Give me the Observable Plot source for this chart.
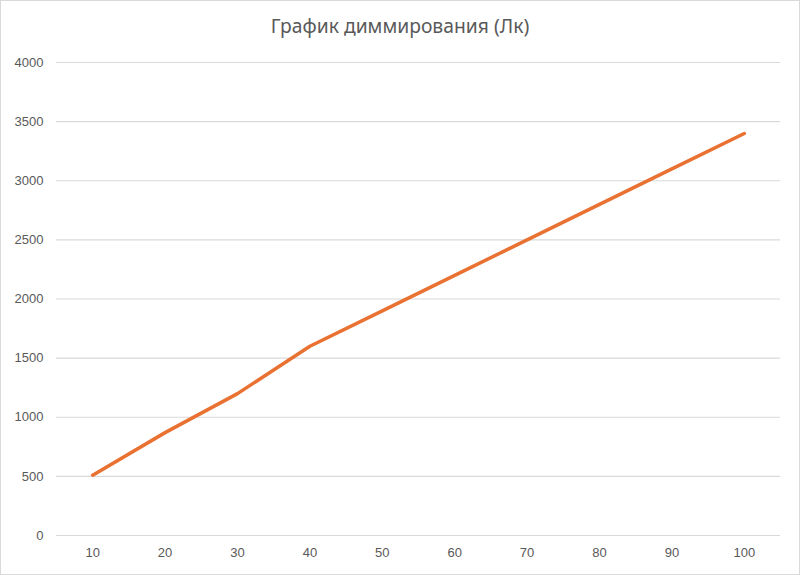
<!DOCTYPE html>
<html>
<head>
<meta charset="utf-8">
<script src="https://cdn.jsdelivr.net/npm/d3@7"></script>
<script src="https://cdn.jsdelivr.net/npm/@observablehq/plot@0.6"></script>
<style>
  html, body { margin: 0; padding: 0; background: #fff; }
  #frame { width: 800px; height: 575px; box-sizing: border-box; border: 1px solid #d9d9d9; background: #fff; overflow: hidden; }
  #title { height: 46px; box-sizing: border-box; padding-top: 15px; text-align: center; font-family: "Noto Sans", "Open Sans", sans-serif; font-size: 19.3px; color: #595959; line-height: 1; }
</style>
</head>
<body>
<div id="frame">
  <div id="title">График диммирования (Лк)</div>
  <div id="chart"></div>
</div>
<script>
const categories = ["10", "20", "30", "40", "50", "60", "70", "80", "90", "100"];
const luxValues = [510, 870, 1200, 1600, 1900, 2200, 2500, 2800, 3100, 3400];
const yTicks = [0, 500, 1000, 1500, 2000, 2500, 3000, 3500, 4000];

const data = categories.map((c, i) => ({ level: c, lux: luxValues[i] }));

const chart = Plot.plot({
  width: 798,
  height: 527,
  marginTop: 15,
  marginBottom: 39,
  marginLeft: 55,
  marginRight: 19,
  style: { fontFamily: "'Liberation Sans', Arial, sans-serif", fontSize: "13px", color: "#595959", background: "#fff" },
  x: { type: "point", domain: categories, padding: 0.5, align: 0.5, round: false, label: null },
  y: { domain: [0, 4000], label: null },
  marks: [
    Plot.gridY(yTicks, { stroke: "#d9d9d9", strokeOpacity: 1, strokeWidth: 1.2 }),
    Plot.axisY(yTicks, { tickSize: 0, tickPadding: 13, fill: "#595959", label: null, tickFormat: d => String(d) }),
    Plot.axisX({ tickSize: 0, tickPadding: 12, fill: "#595959", label: null }),
    Plot.line(data, { x: "level", y: "lux", stroke: "#E97132", strokeWidth: 3.5, strokeLinecap: "round", strokeLinejoin: "round" })
  ]
});
document.getElementById("chart").appendChild(chart);
</script>
</body>
</html>
